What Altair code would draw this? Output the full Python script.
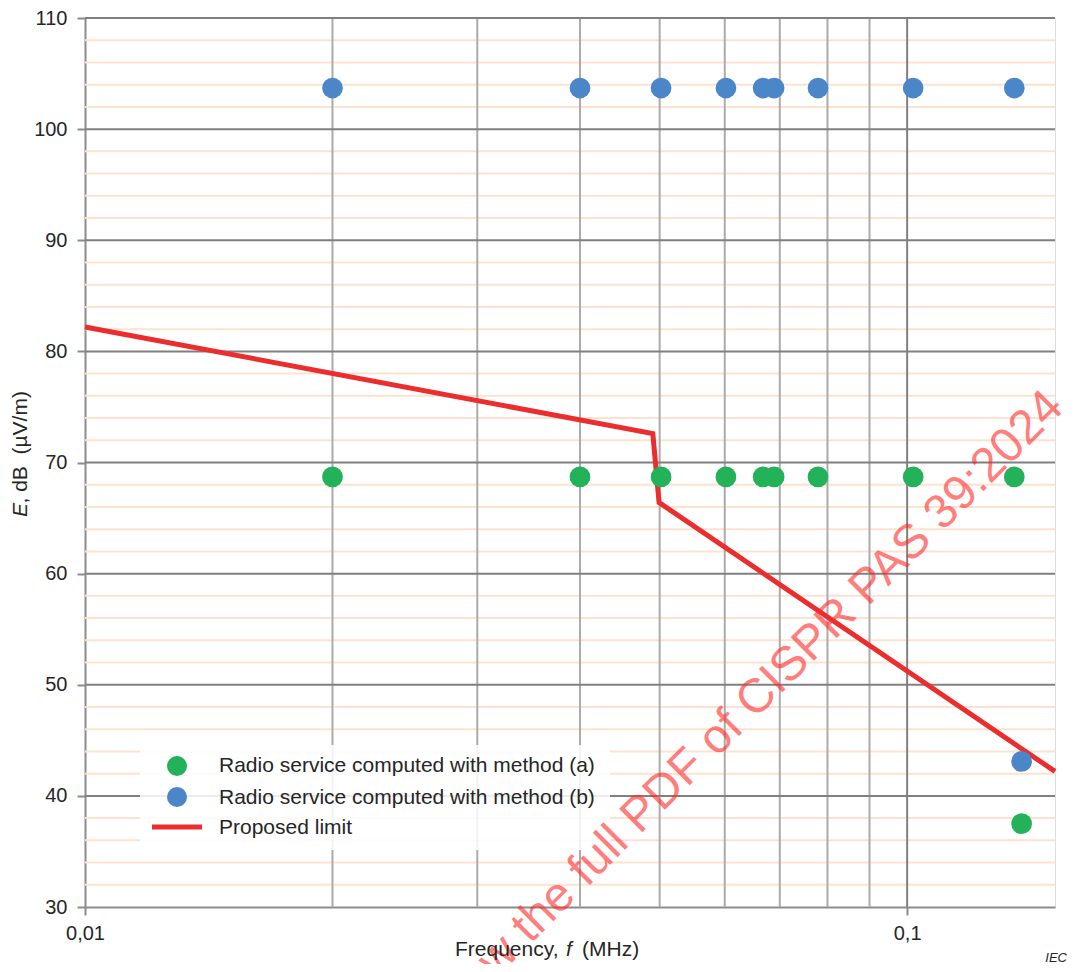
import altair as alt
import pandas as pd

# ---------------- data ----------------
freq = [0.02, 0.04, 0.0502, 0.0602, 0.0668, 0.0689, 0.0779, 0.1017, 0.1350, 0.1378]
level_a = [68.7, 68.7, 68.7, 68.7, 68.7, 68.7, 68.7, 68.7, 68.7, 37.5]
level_b = [103.7, 103.7, 103.7, 103.7, 103.7, 103.7, 103.7, 103.7, 103.7, 43.1]

limit_freq = [0.01, 0.04905, 0.04992, 0.1513]
limit_level = [82.2, 72.6, 66.4, 42.2]

grid_minor_x = [0.02, 0.03, 0.04, 0.05, 0.06, 0.07, 0.08, 0.09]
grid_major_x = [0.1]
grid_major_y = [40, 50, 60, 70, 80, 90, 100, 110]
grid_minor_y = [v for v in range(32, 110, 2) if v % 10 != 0]

x_ticks = [0.01, 0.1]
y_ticks = [30, 40, 50, 60, 70, 80, 90, 100, 110]

legend_labels = ["Radio service computed with method (a)",
                 "Radio service computed with method (b)",
                 "Proposed limit"]

GREEN = "#23b25a"
BLUE = "#4a86c8"
RED = "#ec2d2d"
FONT = "Liberation Sans"

xscale = alt.Scale(type="log", domain=[0.01, 0.1513])
yscale = alt.Scale(domain=[30, 110])

xaxis = alt.Axis(values=x_ticks, title=None, grid=False,
                 labelExpr="replace(format(datum.value, '~g'), '.', ',')",
                 labelFontSize=20, labelFont=FONT, labelColor="#262626",
                 labelPadding=8, tickSize=8, tickWidth=2, tickColor="#8c8c8c",
                 domainColor="#8c8c8c", domainWidth=2, labelFlush=False)
yaxis = alt.Axis(values=y_ticks, title=None, grid=False,
                 labelFontSize=20, labelFont=FONT, labelColor="#262626",
                 labelPadding=10, tickSize=8, tickWidth=2, tickColor="#8c8c8c",
                 domainColor="#8c8c8c", domainWidth=2)

pts = pd.DataFrame({"f": freq + freq,
                    "E": level_a + level_b,
                    "series": ["a"] * len(freq) + ["b"] * len(freq)})
lim = pd.DataFrame({"f": limit_freq, "E": limit_level})

X = lambda: alt.X("f:Q", scale=xscale, axis=xaxis)
Y = lambda: alt.Y("E:Q", scale=yscale, axis=yaxis)

# ---------------- grid ----------------
minor_h = alt.Chart(pd.DataFrame({"E": grid_minor_y})).mark_rule(
    color="#fde3cf", strokeWidth=2).encode(y=Y())
minor_v = alt.Chart(pd.DataFrame({"f": grid_minor_x})).mark_rule(
    color="#ababab", strokeWidth=2).encode(x=X())
major_v = alt.Chart(pd.DataFrame({"f": grid_major_x})).mark_rule(
    color="#808080", strokeWidth=2).encode(x=X())
major_h = alt.Chart(pd.DataFrame({"E": grid_major_y})).mark_rule(
    color="#808080", strokeWidth=2).encode(y=Y())

# legend background
one = pd.DataFrame({"k": [0]})
legend_bg = alt.Chart(one).mark_rect(fill="white", opacity=0.85).encode(
    x=alt.value(55), x2=alt.value(525), y=alt.value(727), y2=alt.value(832))

# ---------------- data marks ----------------
line = alt.Chart(lim).mark_line(color=RED, strokeWidth=5, strokeJoin="miter").encode(
    x=X(), y=Y(), order="f:Q")

points = alt.Chart(pts).mark_circle(size=430, opacity=1).encode(
    x=X(), y=Y(),
    color=alt.Color("series:N", scale=alt.Scale(domain=["a", "b"], range=[GREEN, BLUE]),
                    legend=None))

# ---------------- legend ----------------
leg_a_sym = alt.Chart(one).mark_circle(size=400, opacity=1, color=GREEN).encode(
    x=alt.value(92), y=alt.value(748))
leg_b_sym = alt.Chart(one).mark_circle(size=400, opacity=1, color=BLUE).encode(
    x=alt.value(92), y=alt.value(779))
leg_l_sym = alt.Chart(one).mark_rule(color=RED, strokeWidth=5).encode(
    x=alt.value(67), x2=alt.value(117), y=alt.value(809))
leg_texts = []
for lab, yy in zip(legend_labels, [748, 779.5, 809.5]):
    leg_texts.append(alt.Chart(one).mark_text(
        text=lab, align="left", baseline="middle", fontSize=21, font=FONT,
        color="#262626").encode(x=alt.value(134), y=alt.value(yy)))

# ---------------- titles / annotations ----------------
def txt(s, x, y, **kw):
    return alt.Chart(one).mark_text(text=s, font=FONT, **kw).encode(
        x=alt.value(x), y=alt.value(y))

ytitle_e = txt("E", -58, 499, angle=270, align="left", baseline="alphabetic",
               fontSize=21, fontStyle="italic", color="#262626")
ytitle_r = txt(", dB \u00a0(µV/m)", -58, 485.5, angle=270, align="left",
               baseline="alphabetic", fontSize=21, color="#262626")
xtitle_1 = txt("Frequency,", 370, 938, align="left", baseline="alphabetic",
               fontSize=21, color="#262626")
xtitle_f = txt("f", 481, 938, align="left", baseline="alphabetic",
               fontSize=21, fontStyle="italic", color="#262626")
xtitle_2 = txt("(MHz)", 497, 938, align="left", baseline="alphabetic",
               fontSize=21, color="#262626")
iec = txt("IEC", 982, 944, align="right", baseline="alphabetic",
          fontSize=13, fontStyle="italic", color="#262626")
watermark = txt("w the full PDF of CISPR PAS 39:2024", 686, 666, angle=315,
                align="center", baseline="middle", fontSize=48,
                color="#ff2a2a", opacity=0.6)

chart = alt.layer(
    minor_h, minor_v, major_v, major_h, legend_bg, line, points,
    leg_a_sym, leg_b_sym, leg_l_sym, *leg_texts,
    watermark, ytitle_e, ytitle_r, xtitle_1, xtitle_f, xtitle_2, iec
).properties(
    width=970, height=889,
    autosize=alt.AutoSizeParams(type="none"),
    padding={"left": 77, "top": 10, "right": 13, "bottom": 57},
).configure_view(
    stroke="#8c8c8c", strokeWidth=2
).configure(background="white")

chart.save("out.html", embed_options={"renderer": "svg", "actions": False})
